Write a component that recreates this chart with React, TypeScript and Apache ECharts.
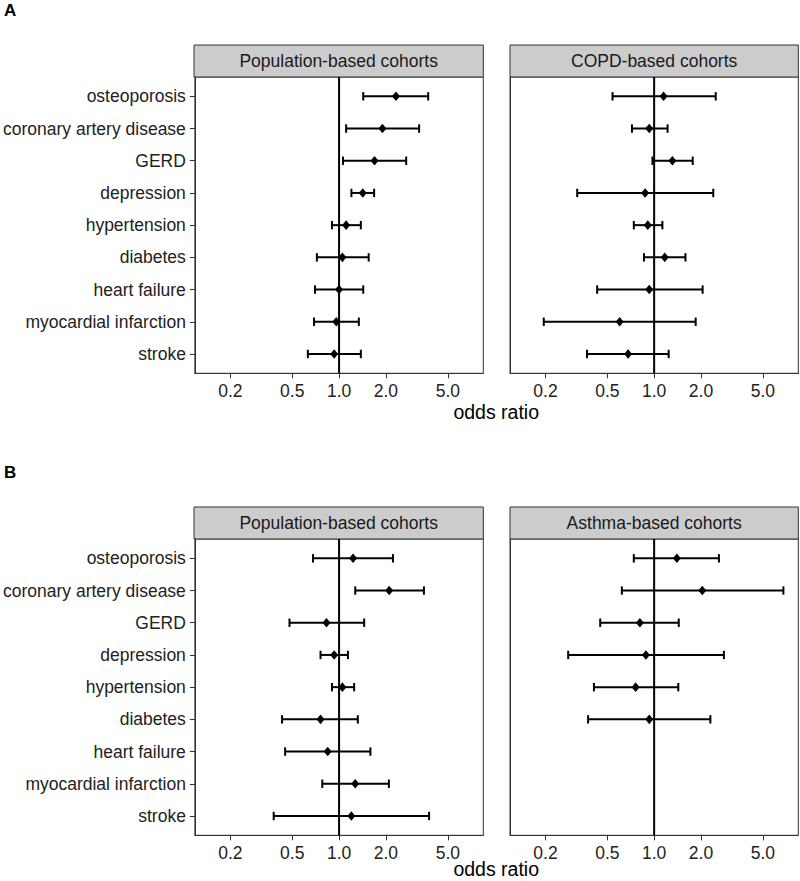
import React, { useEffect, useRef } from "react";
import * as echarts from "echarts";

const categories = [
  "osteoporosis",
  "coronary artery disease",
  "GERD",
  "depression",
  "hypertension",
  "diabetes",
  "heart failure",
  "myocardial infarction",
  "stroke",
];

const tickValues = [0.2, 0.5, 1, 2, 5];
const tickLabels = ["0.2", "0.5", "1.0", "2.0", "5.0"];

// Panel A — population-based cohorts
const aPopEst = [2.32, 1.9, 1.69, 1.42, 1.11, 1.05, 1.0, 0.96, 0.93];
const aPopLo = [1.43, 1.11, 1.06, 1.2, 0.9, 0.72, 0.7, 0.69, 0.63];
const aPopHi = [3.74, 3.27, 2.7, 1.68, 1.38, 1.55, 1.43, 1.34, 1.38];

// Panel A — COPD-based cohorts
const aCopdEst = [1.15, 0.93, 1.31, 0.875, 0.91, 1.17, 0.93, 0.6, 0.68];
const aCopdLo = [0.54, 0.72, 0.975, 0.32, 0.74, 0.86, 0.43, 0.195, 0.37];
const aCopdHi = [2.49, 1.22, 1.77, 2.4, 1.13, 1.59, 2.05, 1.85, 1.24];

// Panel B — population-based cohorts
const bPopEst = [1.23, 2.1, 0.83, 0.93, 1.05, 0.76, 0.845, 1.27, 1.2];
const bPopLo = [0.68, 1.27, 0.48, 0.76, 0.9, 0.43, 0.45, 0.78, 0.38];
const bPopHi = [2.22, 3.51, 1.45, 1.14, 1.25, 1.32, 1.59, 2.09, 3.79];

// Panel B — asthma-based cohorts
const bAstEst = [1.4, 2.04, 0.81, 0.885, 0.76, 0.93, null, null, null];
const bAstLo = [0.74, 0.62, 0.45, 0.28, 0.41, 0.376, null, null, null];
const bAstHi = [2.61, 6.78, 1.44, 2.81, 1.43, 2.3, null, null, null];

const facetTitles = [
  "Population-based cohorts",
  "COPD-based cohorts",
  "Population-based cohorts",
  "Asthma-based cohorts",
];

const FONT = "'Liberation Sans', Arial, Helvetica, sans-serif";
const X_MIN = 0.1183;
const X_MAX = 8.455;
const TEXT = "#222222";

function rows(lo: (number | null)[], est: (number | null)[], hi: (number | null)[]) {
  const out: number[][] = [];
  for (let i = 0; i < est.length; i++) {
    if (est[i] == null) continue;
    out.push([lo[i] as number, est[i] as number, hi[i] as number, i]);
  }
  return out;
}

export default function App() {
  const ref = useRef<HTMLDivElement>(null);
  useEffect(() => {
    if (!ref.current) return;
    const chart = echarts.init(ref.current, null, { renderer: "svg" });

    const grids = [
      { left: 194, top: 77, width: 289.3, height: 296.3 },
      { left: 510, top: 77, width: 288.3, height: 296.3 },
      { left: 194, top: 539, width: 289.3, height: 296.3 },
      { left: 510, top: 539, width: 288.3, height: 296.3 },
    ];
    const datasets = [
      rows(aPopLo, aPopEst, aPopHi),
      rows(aCopdLo, aCopdEst, aCopdHi),
      rows(bPopLo, bPopEst, bPopHi),
      rows(bAstLo, bAstEst, bAstHi),
    ];

    const xAxes = grids.map((_, i) => ({
      type: "log",
      gridIndex: i,
      min: X_MIN,
      max: X_MAX,
      logBase: 10,
      position: "bottom",
      splitLine: { show: false },
      axisLine: { show: true, onZero: false, lineStyle: { color: "#333333", width: 1 } },
      axisTick: {
        show: true,
        length: 5,
        customValues: tickValues,
        lineStyle: { color: "#333333", width: 1 },
      },
      axisLabel: {
        customValues: tickValues,
        margin: 9,
        fontSize: 17.5,
        fontFamily: FONT,
        color: TEXT,
        formatter: (v: number) => {
          const k = tickValues.findIndex((t) => Math.abs(t - v) < 1e-6);
          return k >= 0 ? tickLabels[k] : "";
        },
      },
    }));

    const yAxes = grids.map((_, i) => {
      const left = i % 2 === 0;
      return {
        type: "value",
        gridIndex: i,
        inverse: true,
        min: -0.6,
        max: 8.6,
        position: "left",
        splitLine: { show: false },
        axisLine: { show: true, onZero: false, lineStyle: { color: "#333333", width: 1 } },
        axisTick: {
          show: left,
          length: 5,
          customValues: [0, 1, 2, 3, 4, 5, 6, 7, 8],
          lineStyle: { color: "#333333", width: 1 },
        },
        axisLabel: {
          show: left,
          customValues: [0, 1, 2, 3, 4, 5, 6, 7, 8],
          margin: 9,
          fontSize: 17.5,
          fontFamily: FONT,
          color: TEXT,
          formatter: (v: number) => categories[Math.round(v)] ?? "",
        },
      };
    });

    const series: any[] = [];
    grids.forEach((_, i) => {
      series.push({
        type: "line",
        xAxisIndex: i,
        yAxisIndex: i,
        data: [
          [1, -0.6],
          [1, 8.6],
        ],
        symbol: "none",
        lineStyle: { color: "#000000", width: 2 },
        silent: true,
        z: 2,
      });
      series.push({
        type: "custom",
        xAxisIndex: i,
        yAxisIndex: i,
        data: datasets[i],
        encode: { x: [0, 1, 2], y: 3 },
        z: 3,
        renderItem: (params: any, api: any) => {
          const y = api.value(3);
          const lo = api.coord([api.value(0), y]);
          const est = api.coord([api.value(1), y]);
          const hi = api.coord([api.value(2), y]);
          const c = 4.2;
          const st = { stroke: "#000000", lineWidth: 2 };
          return {
            type: "group",
            children: [
              { type: "line", shape: { x1: lo[0], y1: lo[1], x2: hi[0], y2: hi[1] }, style: st },
              { type: "line", shape: { x1: lo[0], y1: lo[1] - c, x2: lo[0], y2: lo[1] + c }, style: st },
              { type: "line", shape: { x1: hi[0], y1: hi[1] - c, x2: hi[0], y2: hi[1] + c }, style: st },
              {
                type: "polygon",
                shape: {
                  points: [
                    [est[0], est[1] - 4.8],
                    [est[0] + 4, est[1]],
                    [est[0], est[1] + 4.8],
                    [est[0] - 4, est[1]],
                  ],
                },
                style: { fill: "#000000" },
              },
            ],
          };
        },
      });
    });

    const graphics: any[] = [];
    grids.forEach((g, i) => {
      const top = g.top - 32;
      graphics.push({
        type: "rect",
        shape: { x: g.left, y: top, width: g.width, height: 32 },
        style: { fill: "#cccccc", stroke: "#333333", lineWidth: 1 },
        silent: true,
      });
      graphics.push({
        type: "text",
        x: g.left + g.width / 2,
        y: top + 16,
        style: {
          text: facetTitles[i],
          fontSize: 17.5,
          fontFamily: FONT,
          fill: "#1a1a1a",
          align: "center",
          verticalAlign: "middle",
        },
        silent: true,
      });
    });
    [
      { label: "A", y: 10, titleY: 412 },
      { label: "B", y: 472, titleY: 869 },
    ].forEach((p) => {
      graphics.push({
        type: "text",
        x: 4,
        y: p.y,
        style: {
          text: p.label,
          fontSize: 17,
          fontWeight: "bold",
          fontFamily: FONT,
          fill: "#000000",
          align: "left",
          verticalAlign: "middle",
        },
      });
      graphics.push({
        type: "text",
        x: 496.2,
        y: p.titleY,
        style: {
          text: "odds ratio",
          fontSize: 19.5,
          fontFamily: FONT,
          fill: "#000000",
          align: "center",
          verticalAlign: "middle",
        },
      });
    });

    chart.setOption({
      animation: false,
      backgroundColor: "#ffffff",
      grid: grids.map((g) => ({
        ...g,
        show: true,
        borderColor: "#333333",
        borderWidth: 1,
        backgroundColor: "#ffffff",
        containLabel: false,
      })),
      xAxis: xAxes,
      yAxis: yAxes,
      series,
      graphic: graphics,
    });
    return () => chart.dispose();
  }, []);

  return (
    <div
      ref={ref}
      style={{ position: "absolute", left: 0, top: 0, width: 800, height: 881 }}
    />
  );
}
